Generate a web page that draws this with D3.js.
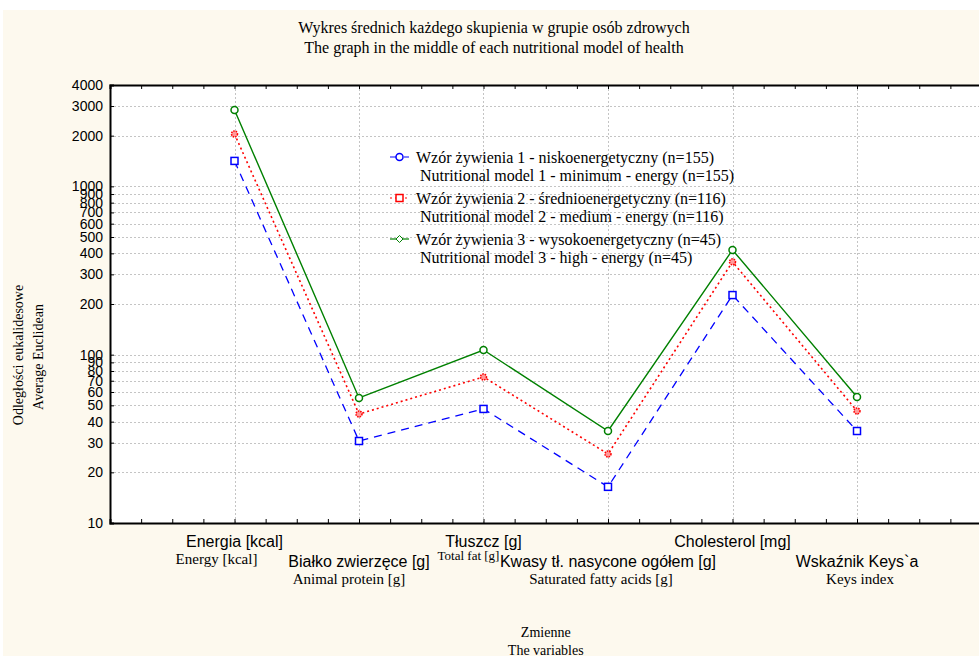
<!DOCTYPE html>
<html><head><meta charset="utf-8">
<script src="https://cdn.jsdelivr.net/npm/d3@7"></script>
<style>body{margin:0;background:#fff} svg{display:block}</style>
</head><body><svg id="chart" width="979" height="656"></svg>
<script>
// Variables (Polish label / English label)
const categories = ["Energia [kcal]", "Białko zwierzęce [g]", "Tłuszcz [g]", "Kwasy tł. nasycone ogółem [g]", "Cholesterol [mg]", "Wskaźnik Keys`a"];
const categoriesEn = ["Energy [kcal]", "Animal protein [g]", "Total fat [g]", "Saturated fatty acids [g]", "", "Keys index"];

// Cluster means for each nutritional model
const model1Low = [1416, 30.7, 47.6, 16.4, 226, 35.2];
const model2Medium = [2048, 44.4, 73.7, 25.7, 356, 46.3];
const model3High = [2844, 55.3, 106.6, 35.2, 419, 56.1];

const yTickValues = [10, 20, 30, 40, 50, 60, 70, 80, 90, 100, 200, 300, 400, 500, 600, 700, 800, 900, 1000, 2000, 3000, 4000];

const legendPl = ["Wzór żywienia 1 - niskoenergetyczny (n=155)", "Wzór żywienia 2 - średnioenergetyczny (n=116)", "Wzór żywienia 3 - wysokoenergetyczny (n=45)"];
const legendEn = ["Nutritional model 1 - minimum - energy (n=155)", "Nutritional model 2 - medium - energy (n=116)", "Nutritional model 3 - high - energy (n=45)"];

const series = [
  {values: model1Low, color: "#0000ff", dash: "8,6", width: 1.3, marker: "square", legendMarker: "circle"},
  {values: model2Medium, color: "#ff0000", dash: "2,3", width: 1.6, marker: "dot", legendMarker: "square"},
  {values: model3High, color: "#008000", dash: null, width: 1.4, marker: "circle", legendMarker: "diamond"}
];

const svg = d3.select("#chart");
const W = 979, H = 656;
const serif = "'Liberation Serif', 'Times New Roman', serif";
const sans = "'Liberation Sans', Arial, sans-serif";

// page background
svg.append("rect").attr("x", 3).attr("y", 10).attr("width", W).attr("height", H).attr("fill", "#fdf9ee");

const plotLeft = 110, plotTop = 85, plotBottom = 523, plotRight = 981.5;
const x = d3.scaleLinear().domain([0, 7]).range([plotLeft, plotRight]);
const y = d3.scaleLog().domain([10, 4000]).range([plotBottom, plotTop]);

svg.append("rect").attr("x", plotLeft).attr("y", plotTop).attr("width", plotRight - plotLeft).attr("height", plotBottom - plotTop).attr("fill", "#fff");

// grid
const grid = svg.append("g").attr("stroke", "#c4c4c4").attr("stroke-width", 1).attr("stroke-dasharray", "2,2");
grid.selectAll("line.h").data(yTickValues.filter(v => v > 10 && v < 4000)).join("line")
  .attr("x1", plotLeft).attr("x2", plotRight)
  .attr("y1", d => Math.round(y(d)) + 0.5).attr("y2", d => Math.round(y(d)) + 0.5);
grid.selectAll("line.v").data(d3.range(1, 7)).join("line")
  .attr("y1", plotTop).attr("y2", plotBottom)
  .attr("x1", d => Math.round(x(d)) + 0.5).attr("x2", d => Math.round(x(d)) + 0.5);

// axes
const xMinor = d3.range(0, 7.01, 0.25);
const xBottom = d3.axisBottom(x).tickValues(xMinor).tickSize(-4).tickFormat("");
const xTop = d3.axisTop(x).tickValues(xMinor).tickSize(-4).tickFormat("");
svg.append("g").attr("transform", `translate(0,${plotBottom})`).call(xBottom)
  .call(g => g.select(".domain").attr("stroke-width", 2));
svg.append("g").attr("transform", `translate(0,${plotTop})`).call(xTop)
  .call(g => g.select(".domain").attr("stroke-width", 2));

const yAxis = d3.axisLeft(y).tickValues(yTickValues).tickSize(-4).tickPadding(7).tickFormat(d3.format("d"));
svg.append("g").attr("transform", `translate(${plotLeft},0)`).call(yAxis)
  .call(g => g.select(".domain").attr("stroke-width", 2))
  .call(g => g.selectAll("text").attr("font-family", sans).attr("font-size", 14).attr("fill", "#000"));

// series lines
const line = d3.line().x((d, i) => x(i + 1)).y(d => y(d));
series.forEach(s => {
  svg.append("path").datum(s.values).attr("d", line)
    .attr("fill", "none").attr("stroke", s.color).attr("stroke-width", s.width)
    .attr("stroke-dasharray", s.dash);
});

function drawMarker(g, type, cx, cy, color) {
  if (type === "square") {
    g.append("rect").attr("x", cx - 3.5).attr("y", cy - 3.5).attr("width", 7).attr("height", 7)
      .attr("fill", "#fff").attr("stroke", color).attr("stroke-width", 1.5);
  } else if (type === "circle") {
    g.append("circle").attr("cx", cx).attr("cy", cy).attr("r", 3.5)
      .attr("fill", "#fff").attr("stroke", color).attr("stroke-width", 1.5);
  } else if (type === "dot") {
    g.append("circle").attr("cx", cx).attr("cy", cy).attr("r", 3)
      .attr("fill", "#ff9a9a").attr("stroke", color).attr("stroke-width", 1.5).attr("stroke-dasharray", "1.5,1");
  } else if (type === "diamond") {
    g.append("path").attr("d", `M${cx},${cy - 3.5}L${cx + 3.5},${cy}L${cx},${cy + 3.5}L${cx - 3.5},${cy}Z`)
      .attr("fill", "#fff").attr("stroke", color).attr("stroke-width", 1);
  }
}

series.forEach(s => {
  const g = svg.append("g");
  s.values.forEach((v, i) => drawMarker(g, s.marker, x(i + 1), y(v), s.color));
});

// titles
const title = svg.append("g").attr("font-family", serif).attr("font-size", 16).attr("text-anchor", "middle");
title.append("text").attr("x", 494).attr("y", 32.5).text("Wykres średnich każdego skupienia w grupie osób zdrowych");
title.append("text").attr("x", 494).attr("y", 52.5).text("The graph in the middle of each nutritional model of health");

const yTitle = svg.append("g").attr("font-family", serif).attr("font-size", 14).attr("text-anchor", "middle");
yTitle.append("text").attr("transform", "translate(23,355) rotate(-90)").text("Odległości eukalidesowe");
yTitle.append("text").attr("transform", "translate(43,357) rotate(-90)").text("Average Euclidean");

// category labels, staggered on two rows
const enShift = [-18, -10, -15, -7, 0, 3];
categories.forEach((c, i) => {
  const row = i % 2;
  const cx = x(i + 1);
  svg.append("text").attr("x", cx).attr("y", row ? 566.5 : 546.5)
    .attr("font-family", sans).attr("font-size", 16).attr("text-anchor", "middle").text(c);
  if (categoriesEn[i]) {
    svg.append("text").attr("x", cx + enShift[i]).attr("y", row ? 583.5 : (i === 2 ? 560 : 563.5))
      .attr("font-family", serif).attr("font-size", i === 2 ? 13 : 15).attr("text-anchor", "middle").text(categoriesEn[i]);
  }
});

const xTitle = svg.append("g").attr("font-family", serif).attr("font-size", 14).attr("text-anchor", "middle");
xTitle.append("text").attr("x", x(3.5)).attr("y", 637).text("Zmienne");
xTitle.append("text").attr("x", x(3.5)).attr("y", 655).text("The variables");

// legend
const legend = svg.append("g").attr("font-family", serif).attr("font-size", 16);
series.forEach((s, i) => {
  const ly = 157 + i * 41;
  legend.append("line").attr("x1", 390).attr("x2", 409).attr("y1", ly).attr("y2", ly)
    .attr("stroke", s.color).attr("stroke-width", 1.2).attr("stroke-dasharray", s.dash);
  drawMarker(legend, s.legendMarker, 399.5, ly, s.color);
  legend.append("text").attr("x", 416).attr("y", ly + 5.5).text(legendPl[i]);
  legend.append("text").attr("x", 420).attr("y", ly + 24).text(legendEn[i]);
});
</script></body></html>
